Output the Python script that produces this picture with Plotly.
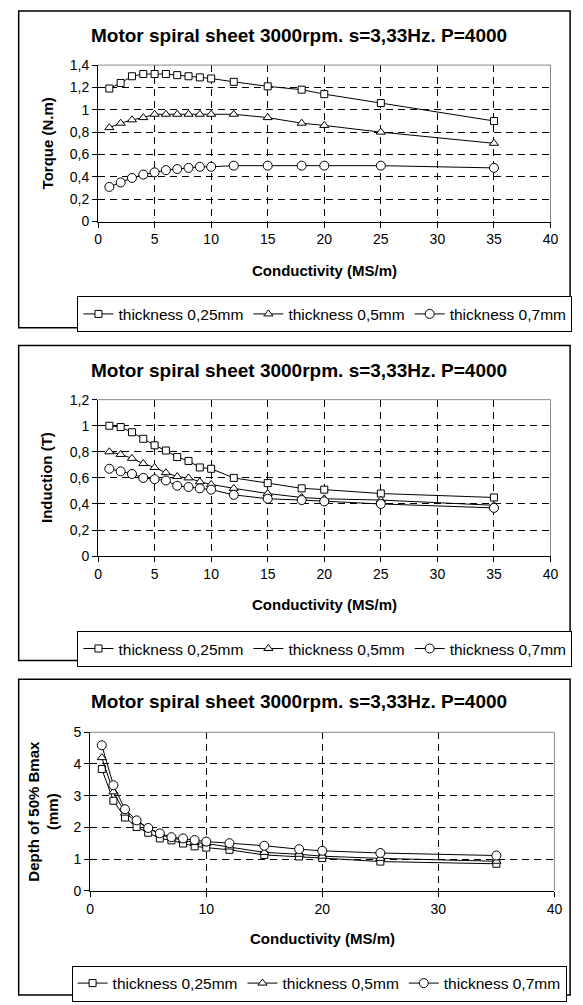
import plotly.graph_objects as go

W, H = 583, 1005

# ---------------- data ----------------
conductivity = [1, 2, 3, 4, 5, 6, 7, 8, 9, 10, 12, 15, 18, 20, 25, 35]
series_names = ["thickness 0,25mm", "thickness 0,5mm", "thickness 0,7mm"]

torque_025 = [1.19, 1.24, 1.30, 1.32, 1.32, 1.32, 1.31, 1.30, 1.29, 1.28, 1.25, 1.21, 1.18, 1.14, 1.06, 0.90]
torque_05 = [0.84, 0.88, 0.91, 0.93, 0.96, 0.96, 0.96, 0.96, 0.96, 0.96, 0.96, 0.93, 0.88, 0.86, 0.80, 0.70]
torque_07 = [0.31, 0.35, 0.39, 0.42, 0.44, 0.46, 0.47, 0.48, 0.49, 0.49, 0.50, 0.50, 0.50, 0.50, 0.50, 0.48]

induction_025 = [1.00, 0.99, 0.95, 0.90, 0.85, 0.81, 0.76, 0.73, 0.68, 0.67, 0.60, 0.56, 0.52, 0.51, 0.48, 0.45]
induction_05 = [0.80, 0.78, 0.75, 0.71, 0.68, 0.64, 0.61, 0.60, 0.57, 0.55, 0.52, 0.48, 0.45, 0.44, 0.43, 0.39]
induction_07 = [0.67, 0.65, 0.63, 0.60, 0.59, 0.58, 0.54, 0.53, 0.52, 0.51, 0.47, 0.44, 0.43, 0.42, 0.40, 0.37]

depth_025 = [3.84, 2.84, 2.31, 2.01, 1.83, 1.65, 1.59, 1.49, 1.40, 1.36, 1.29, 1.13, 1.08, 1.03, 0.92, 0.85]
depth_05 = [4.20, 3.12, 2.45, 2.19, 1.98, 1.78, 1.67, 1.60, 1.52, 1.49, 1.38, 1.21, 1.15, 1.09, 1.02, 0.93]
depth_07 = [4.59, 3.33, 2.57, 2.22, 1.98, 1.81, 1.69, 1.65, 1.60, 1.55, 1.50, 1.42, 1.31, 1.26, 1.19, 1.11]

title_text = "Motor spiral sheet 3000rpm. s=3,33Hz. P=4000"
x_title = "Conductivity (MS/m)"
y_titles = ["Torque (N.m)", "Induction (T)", "Depth of 50% Bmax<br>(mm)"]

x_ticks_a = [0, 5, 10, 15, 20, 25, 30, 35, 40]
x_ticks_b = [0, 10, 20, 30, 40]
y_ticks_1 = [0, 0.2, 0.4, 0.6, 0.8, 1.0, 1.2, 1.4]
y_labels_1 = ["0", "0,2", "0,4", "0,6", "0,8", "1", "1,2", "1,4"]
y_ticks_2 = [0, 0.2, 0.4, 0.6, 0.8, 1.0, 1.2]
y_labels_2 = ["0", "0,2", "0,4", "0,6", "0,8", "1", "1,2"]
y_ticks_3 = [0, 1, 2, 3, 4, 5]
y_labels_3 = ["0", "1", "2", "3", "4", "5"]

# ---------------- layout helpers ----------------
def X(p):
    return p / W

def Y(p):
    return 1 - p / H

FONT = "Liberation Sans, Arial, sans-serif"
symbols = ["square", "triangle-up", "circle"]
msizes = [7, 8, 9]

panels = [
    dict(data=[torque_025, torque_05, torque_07], plot=(96, 558, 58, 217), frame=(15, 578, 3, 325),
         title_y=28, xlab_y=267, ylab_x=44, yr=[0, 1.4], yt=y_ticks_1, yl=y_labels_1, xt=x_ticks_a,
         leg=(75, 293)),
    dict(data=[induction_025, induction_05, induction_07], plot=(96, 558, 398, 557), frame=(15, 578, 343, 663),
         title_y=368, xlab_y=606, ylab_x=44, yr=[0, 1.2], yt=y_ticks_2, yl=y_labels_2, xt=x_ticks_a,
         leg=(75, 633)),
    dict(data=[depth_025, depth_05, depth_07], plot=(88, 562, 736, 897), frame=(15, 578, 682, 1003),
         title_y=705, xlab_y=946, ylab_x=40, yr=[0, 5], yt=y_ticks_3, yl=y_labels_3, xt=x_ticks_b,
         leg=(69, 973)),
]

fig = go.Figure()
shapes = []
annotations = []
layout = {}

for i, pnl in enumerate(panels):
    k = "" if i == 0 else str(i + 1)
    legname = "legend" + k
    x0, x1, yt_, yb_ = pnl["plot"]
    for j in range(3):
        fig.add_trace(go.Scatter(
            x=conductivity, y=pnl["data"][j], name=series_names[j],
            mode="lines+markers", xaxis="x" + k, yaxis="y" + k, legend=legname,
            line=dict(color="black", width=1),
            marker=dict(symbol=symbols[j], size=msizes[j], color="white",
                        line=dict(color="black", width=1)),
            showlegend=True,
        ))
    layout["xaxis" + k] = dict(
        domain=[X(x0), X(x1)], anchor="y" + k, range=[0, 40],
        tickvals=pnl["xt"], ticktext=[str(v) for v in pnl["xt"]],
        showgrid=True, gridcolor="black", griddash="7px,5px", gridwidth=1,
        showline=True, linecolor="black", linewidth=1, zeroline=False,
        ticks="outside", ticklen=5, tickcolor="black",
        tickfont=dict(family=FONT, size=14, color="black"),
    )
    layout["yaxis" + k] = dict(
        domain=[Y(yb_), Y(yt_)], anchor="x" + k, range=pnl["yr"],
        tickvals=pnl["yt"], ticktext=pnl["yl"],
        showgrid=True, gridcolor="black", griddash="7px,5px", gridwidth=1,
        showline=True, linecolor="black", linewidth=1, zeroline=False,
        ticks="outside", ticklen=5, tickcolor="black",
        tickfont=dict(family=FONT, size=14, color="black"),
    )
    # plot area top/right grey border
    shapes.append(dict(type="line", xref="paper", yref="paper", x0=X(x0), x1=X(x1), y0=Y(yt_), y1=Y(yt_),
                       line=dict(color="#8a8a8a", width=1), layer="above"))
    shapes.append(dict(type="line", xref="paper", yref="paper", x0=X(x1), x1=X(x1), y0=Y(yb_), y1=Y(yt_),
                       line=dict(color="#8a8a8a", width=1), layer="above"))
    # outer frame
    fx0, fx1, fy0, fy1 = pnl["frame"]
    shapes.append(dict(type="rect", xref="paper", yref="paper", x0=X(fx0), x1=X(fx1), y0=Y(fy1), y1=Y(fy0),
                       line=dict(color="black", width=1.5), layer="above"))
    # titles
    annotations.append(dict(text="<b>" + title_text + "</b>", x=X(301), y=Y(pnl["title_y"]), xref="paper",
                            yref="paper", showarrow=False, xanchor="center", yanchor="middle",
                            font=dict(family=FONT, size=19, color="black")))
    annotations.append(dict(text="<b>" + x_title + "</b>", x=X((x0 + x1) / 2), y=Y(pnl["xlab_y"]), xref="paper",
                            yref="paper", showarrow=False, xanchor="center", yanchor="middle",
                            font=dict(family=FONT, size=15, color="black")))
    annotations.append(dict(text="<b>" + y_titles[i] + "</b>", x=X(pnl["ylab_x"]), y=Y((yt_ + yb_) / 2),
                            xref="paper", yref="paper", showarrow=False, xanchor="center", yanchor="middle",
                            textangle=-90, font=dict(family=FONT, size=15, color="black")))
    lx, ly = pnl["leg"]
    layout[legname] = dict(
        x=X(lx), y=Y(ly), xanchor="left", yanchor="top", orientation="h",
        bordercolor="black", borderwidth=1, bgcolor="white",
        font=dict(family=FONT, size=15.5, color="black"), itemwidth=30, tracegroupgap=0,
        traceorder="normal",
    )

fig.update_layout(
    width=W, height=H, margin=dict(l=0, r=0, t=0, b=0),
    paper_bgcolor="white", plot_bgcolor="white",
    shapes=shapes, annotations=annotations, **layout,
)

fig.write_html("out.html", config={"displayModeBar": False})
